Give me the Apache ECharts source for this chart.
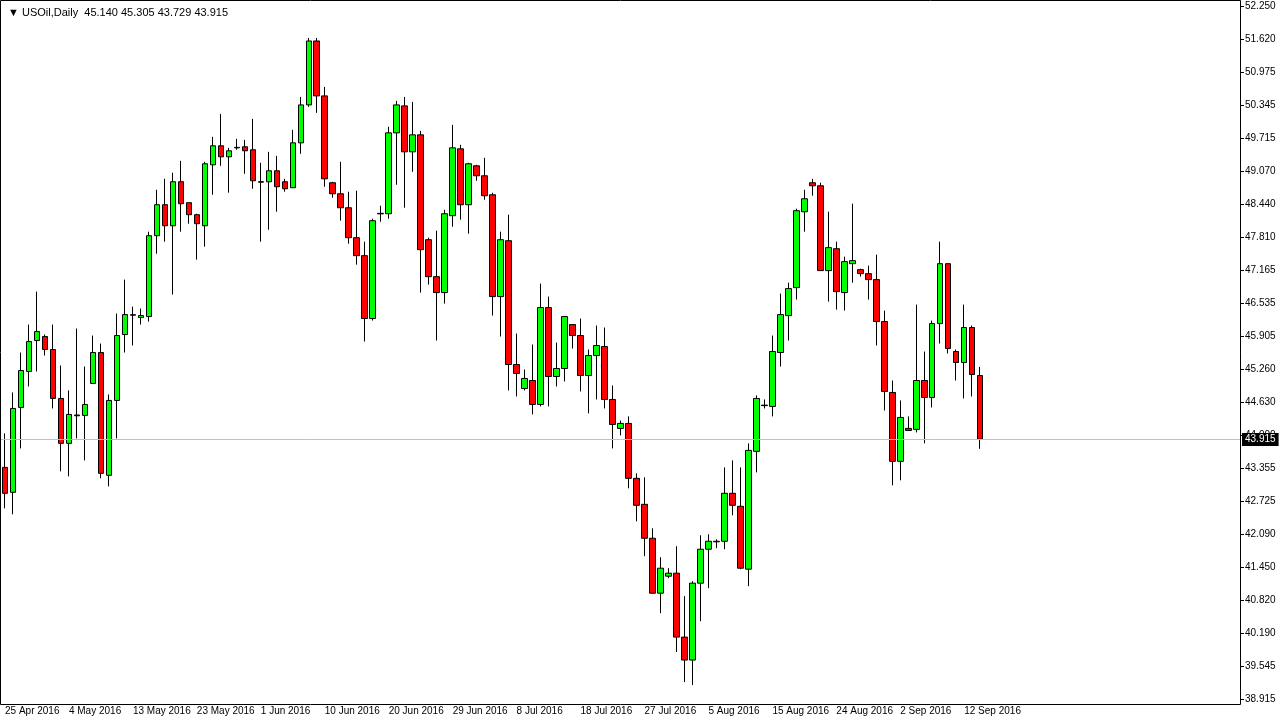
<!DOCTYPE html>
<html>
<head>
    <meta charset="utf-8">
    <title>USOil,Daily</title>
    <script src="https://cdn.jsdelivr.net/npm/echarts@6/dist/echarts.min.js"></script>
    <style>
        html, body { margin: 0; padding: 0; background: #fff; }
        #chart { width: 1284px; height: 725px; }
    </style>
</head>
<body>
<div id="chart"></div>
<script>
    // daily candles: [open, close, low, high]
    var candles = [
        [43.372, 42.873, 42.585, 44.026], [42.892, 44.506, 42.469, 44.814], [44.525, 45.236, 43.737, 45.582],
        [45.217, 45.793, 44.929, 46.120], [45.813, 45.986, 45.217, 46.754], [45.890, 45.640, 45.524, 45.928],
        [45.640, 44.698, 44.506, 46.120], [44.698, 43.834, 43.296, 45.332], [43.834, 44.391, 43.200, 44.852],
        [44.380, 44.365, 43.930, 46.044], [44.372, 44.583, 43.507, 45.313], [44.987, 45.582, 44.987, 45.909],
        [45.582, 43.257, 43.161, 45.755], [43.219, 44.660, 43.007, 44.775], [44.660, 45.909, 43.930, 46.332],
        [45.928, 46.312, 45.582, 46.985], [46.310, 46.300, 45.717, 46.466], [46.255, 46.293, 46.120, 46.428],
        [46.274, 47.830, 46.178, 47.907], [47.830, 48.426, 47.484, 48.714], [48.426, 48.022, 47.715, 48.925],
        [48.022, 48.868, 46.697, 49.041], [48.868, 48.445, 47.907, 49.271], [48.465, 48.234, 48.061, 48.465],
        [48.234, 48.061, 47.369, 48.253], [48.022, 49.214, 47.619, 49.252], [49.194, 49.560, 48.618, 49.733],
        [49.560, 49.348, 49.175, 50.174], [49.348, 49.464, 48.657, 49.521], [49.530, 49.520, 49.483, 49.694],
        [49.541, 49.464, 49.022, 49.675], [49.483, 48.887, 48.733, 50.078], [48.870, 48.860, 47.715, 49.233],
        [48.868, 49.079, 47.946, 49.444], [49.079, 48.772, 48.291, 49.367], [48.868, 48.733, 48.676, 48.925],
        [48.753, 49.617, 48.753, 49.867], [49.617, 50.347, 49.406, 50.501], [50.347, 51.577, 50.309, 51.635],
        [51.577, 50.520, 50.194, 51.635], [50.520, 48.925, 48.772, 50.693], [48.849, 48.637, 48.560, 48.868],
        [48.637, 48.368, 48.119, 49.252], [48.368, 47.792, 47.676, 48.676], [47.792, 47.446, 47.273, 48.695],
        [47.446, 46.236, 45.793, 47.715], [46.236, 48.119, 46.197, 48.157], [48.260, 48.250, 48.099, 48.407],
        [48.253, 49.809, 48.157, 49.925], [49.809, 50.347, 48.810, 50.424], [50.328, 49.444, 48.368, 50.501],
        [49.444, 49.771, 49.060, 50.405], [49.771, 47.561, 46.735, 49.848], [47.753, 47.042, 46.889, 47.792],
        [47.042, 46.735, 45.813, 47.926], [46.735, 48.253, 46.524, 48.330], [48.215, 49.521, 48.003, 49.963],
        [49.502, 48.426, 48.138, 49.579], [48.426, 49.214, 47.869, 49.233], [49.175, 48.983, 48.887, 49.194],
        [48.983, 48.599, 48.522, 49.329], [48.618, 46.658, 46.293, 48.657], [46.658, 47.753, 45.890, 47.907],
        [47.734, 45.351, 44.852, 48.234], [45.351, 45.179, 44.737, 45.947], [44.890, 45.083, 44.852, 45.255],
        [45.044, 44.583, 44.391, 45.736], [44.583, 46.447, 44.545, 46.908], [46.447, 45.121, 44.545, 46.658],
        [45.121, 45.275, 44.929, 45.774], [45.275, 46.274, 45.025, 46.274], [46.120, 45.909, 45.659, 46.120],
        [45.909, 45.140, 44.833, 46.236], [45.140, 45.524, 44.410, 45.640], [45.524, 45.717, 44.679, 46.101],
        [45.697, 44.679, 44.506, 46.063], [44.679, 44.198, 43.737, 44.948], [44.122, 44.218, 43.987, 44.275],
        [44.218, 43.161, 42.969, 44.353], [43.161, 42.642, 42.334, 43.257], [42.661, 42.008, 41.662, 43.180],
        [42.008, 40.951, 40.951, 42.200], [40.951, 41.432, 40.567, 41.643], [41.278, 41.336, 41.240, 41.432],
        [41.336, 40.106, 39.818, 41.854], [40.106, 39.664, 39.241, 40.894], [39.664, 41.144, 39.183, 41.182],
        [41.144, 41.797, 40.413, 42.066], [41.797, 41.950, 41.047, 42.085], [41.950, 41.940, 41.816, 41.989],
        [41.950, 42.873, 41.797, 43.372], [42.873, 42.642, 42.450, 43.507], [42.623, 41.432, 41.413, 43.372],
        [41.413, 43.699, 41.086, 43.834], [43.680, 44.698, 43.276, 44.756], [44.570, 44.560, 44.506, 44.679],
        [44.545, 45.601, 44.353, 45.909], [45.582, 46.312, 45.313, 46.716], [46.293, 46.812, 45.813, 46.927],
        [46.831, 48.311, 46.601, 48.349], [48.291, 48.541, 47.907, 48.714], [48.849, 48.791, 48.599, 48.925],
        [48.791, 47.158, 47.158, 48.849], [47.158, 47.600, 46.562, 48.291], [47.580, 46.754, 46.408, 47.715],
        [46.735, 47.331, 46.389, 47.427], [47.292, 47.350, 46.927, 48.445], [47.177, 47.100, 47.042, 47.196],
        [47.100, 46.985, 46.601, 47.254], [46.985, 46.178, 45.717, 47.465], [46.178, 44.833, 44.467, 46.389],
        [44.814, 43.488, 43.027, 45.044], [43.488, 44.333, 43.123, 44.660], [44.122, 44.083, 44.083, 44.353],
        [44.103, 45.044, 44.045, 46.504], [45.044, 44.717, 43.834, 45.601], [44.717, 46.139, 44.525, 46.197],
        [46.139, 47.292, 45.755, 47.715], [47.292, 45.659, 45.563, 47.292], [45.601, 45.390, 45.044, 45.640],
        [45.390, 46.063, 44.698, 46.504], [46.063, 45.159, 44.737, 46.101], [45.140, 43.915, 43.729, 45.305]
    ];

    var dateLabels = ['25 Apr 2016', '4 May 2016', '13 May 2016', '23 May 2016', '1 Jun 2016', '10 Jun 2016',
        '20 Jun 2016', '29 Jun 2016', '8 Jul 2016', '18 Jul 2016', '27 Jul 2016', '5 Aug 2016',
        '15 Aug 2016', '24 Aug 2016', '2 Sep 2016', '12 Sep 2016'];

    var priceLabels = ['38.915', '39.545', '40.190', '40.820', '41.450', '42.090', '42.725', '43.355',
        '44.000', '44.630', '45.260', '45.905', '46.535', '47.165', '47.810', '48.440', '49.070',
        '49.715', '50.345', '50.975', '51.620', '52.250'];

    var lastPrice = 43.915;
    var slots = 155; // empty space to the right of the last bar
    var yMin = 38.915, yMax = 52.25, yStep = (yMax - yMin) / 21;

    var cats = [];
    for (var i = 0; i < slots; i++) cats.push(String(i));

    var chart = echarts.init(document.getElementById('chart'));
    var font = 'Liberation Sans';

    chart.setOption({
        animation: false,
        textStyle: { fontFamily: font },
        grid: { left: 1, right: 44, top: 6, height: 693 },
        graphic: [
            { type: 'rect', shape: { x: 0.5, y: 0.5, width: 1240, height: 704 },
              style: { fill: 'none', stroke: '#000', lineWidth: 1 }, z: 100 },
            { type: 'text', left: 8, top: 7,
              style: { text: '\u25BC USOil,Daily  45.140 45.305 43.729 43.915', fill: '#000',
                       font: '11px ' + font }, z: 100 }
        ],
        xAxis: {
            type: 'category',
            data: cats,
            axisLine: { show: false },
            axisTick: { show: false },
            splitLine: { show: false },
            axisLabel: {
                interval: 0, margin: 7, fontSize: 10, color: '#000', align: 'left',
                formatter: function (v, idx) {
                    return idx % 8 === 0 && dateLabels[idx / 8] ? dateLabels[idx / 8] : '';
                }
            }
        },
        yAxis: {
            type: 'value',
            position: 'right',
            min: yMin, max: yMax, interval: yStep,
            scale: true,
            splitLine: { show: false },
            axisLine: { show: true, lineStyle: { color: '#000' } },
            axisTick: { show: true, length: 4, lineStyle: { color: '#000' } },
            axisLabel: {
                margin: 5, fontSize: 10, color: '#000',
                formatter: function (v) {
                    return priceLabels[Math.round((v - yMin) / yStep)] || '';
                }
            }
        },
        series: [{
            type: 'candlestick',
            data: candles,
            barWidth: 6,
            itemStyle: {
                color: '#00ff00', color0: '#ff0000',
                borderColor: '#000', borderColor0: '#000', borderWidth: 1
            },
            markLine: {
                symbol: 'none',
                silent: true,
                lineStyle: { color: '#c0c0c0', type: 'solid', width: 1 },
                label: {
                    position: 'end', distance: 2, formatter: '43.915', color: '#fff',
                    backgroundColor: '#000', padding: [2, 3, 1, 3], fontSize: 10
                },
                data: [{ yAxis: lastPrice }]
            }
        }]
    });
</script>
</body>
</html>
